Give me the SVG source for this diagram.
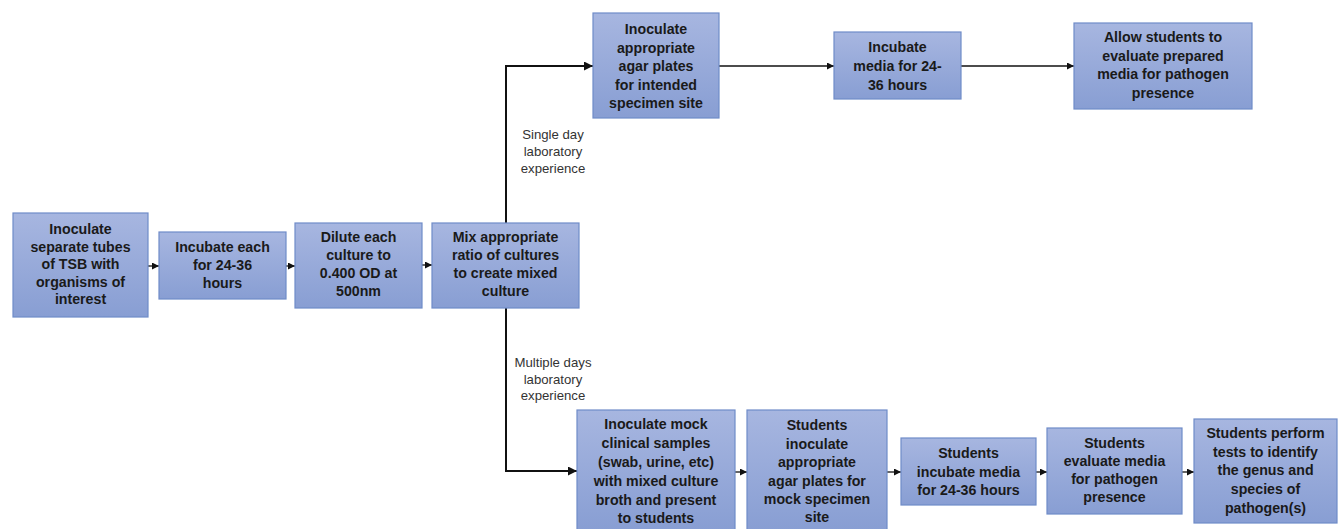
<svg xmlns="http://www.w3.org/2000/svg" width="1341" height="529" viewBox="0 0 1341 529">
<defs>
<linearGradient id="g" x1="0" y1="0" x2="0" y2="1">
<stop offset="0" stop-color="#a7b6e0"/>
<stop offset="1" stop-color="#889ed3"/>
</linearGradient>
<marker id="ah" viewBox="0 0 10 10" refX="10" refY="5" markerWidth="7" markerHeight="7" markerUnits="userSpaceOnUse" orient="auto">
<path d="M0,0 L10,5 L0,10 z" fill="#111"/>
</marker>
<marker id="ah2" viewBox="0 0 10 10" refX="10" refY="5" markerWidth="9" markerHeight="9" markerUnits="userSpaceOnUse" orient="auto">
<path d="M0,0 L10,5 L0,10 z" fill="#111"/>
</marker>
<style>
.b{fill:url(#g);stroke:#6f8cc8;stroke-width:1.2}
.t{font-family:"Liberation Sans",Arial,sans-serif;font-weight:bold;font-size:14.2px;fill:#1a1a1a;text-anchor:middle}
.l{font-family:"Liberation Sans",Arial,sans-serif;font-size:13.2px;fill:#333;text-anchor:middle}
.c{fill:none;stroke:#111;stroke-width:1.3}
.ct{fill:none;stroke:#111;stroke-width:2}
</style>
</defs>
<rect width="1341" height="529" fill="#fff"/>
<g id="connectors">
<line class="c" x1="148" y1="266" x2="159" y2="266" marker-end="url(#ah)"/>
<line class="c" x1="286" y1="266" x2="295" y2="266" marker-end="url(#ah)"/>
<line class="c" x1="422" y1="265" x2="432" y2="265" marker-end="url(#ah)"/>
<polyline class="ct" points="506,223 506,66 593,66" marker-end="url(#ah2)"/>
<polyline class="ct" points="506,308 506,471 577,471" marker-end="url(#ah2)"/>
<line class="c" x1="719" y1="66" x2="834" y2="66" marker-end="url(#ah)"/>
<line class="c" x1="961" y1="66" x2="1074" y2="66" marker-end="url(#ah)"/>
<line class="c" x1="735" y1="472" x2="747" y2="472" marker-end="url(#ah)"/>
<line class="c" x1="887" y1="472" x2="901" y2="472" marker-end="url(#ah)"/>
<line class="c" x1="1036" y1="472" x2="1047" y2="472" marker-end="url(#ah)"/>
<line class="c" x1="1182" y1="472" x2="1194" y2="472" marker-end="url(#ah)"/>
<text class="l" x="553" y="139">Single day</text>
<text class="l" x="553" y="156">laboratory</text>
<text class="l" x="553" y="173">experience</text>
<text class="l" x="553" y="367">Multiple days</text>
<text class="l" x="553" y="384">laboratory</text>
<text class="l" x="553" y="400">experience</text>
</g>
<g id="n1">
<rect class="b" x="13" y="213" width="135" height="104"/>
<text class="t" x="80.5" y="234">Inoculate</text>
<text class="t" x="80.5" y="251.5">separate tubes</text>
<text class="t" x="80.5" y="269">of TSB with</text>
<text class="t" x="80.5" y="286.5">organisms of</text>
<text class="t" x="80.5" y="304">interest</text>
</g>
<g id="n2">
<rect class="b" x="159" y="232" width="127" height="67"/>
<text class="t" x="222.5" y="252">Incubate each</text>
<text class="t" x="222.5" y="270">for 24-36</text>
<text class="t" x="222.5" y="288">hours</text>
</g>
<g id="n3">
<rect class="b" x="295" y="223" width="127" height="85"/>
<text class="t" x="358.5" y="242">Dilute each</text>
<text class="t" x="358.5" y="260">culture to</text>
<text class="t" x="358.5" y="278">0.400 OD at</text>
<text class="t" x="358.5" y="296">500nm</text>
</g>
<g id="n4">
<rect class="b" x="432" y="223" width="147" height="85"/>
<text class="t" x="505.5" y="242">Mix appropriate</text>
<text class="t" x="505.5" y="260">ratio of cultures</text>
<text class="t" x="505.5" y="278">to create mixed</text>
<text class="t" x="505.5" y="296">culture</text>
</g>
<g id="n5">
<rect class="b" x="593" y="13" width="126" height="105"/>
<text class="t" x="656" y="34">Inoculate</text>
<text class="t" x="656" y="52.5">appropriate</text>
<text class="t" x="656" y="71">agar plates</text>
<text class="t" x="656" y="89.5">for intended</text>
<text class="t" x="656" y="108">specimen site</text>
</g>
<g id="n6">
<rect class="b" x="834" y="32" width="127" height="67"/>
<text class="t" x="897.5" y="52">Incubate</text>
<text class="t" x="897.5" y="71">media for 24-</text>
<text class="t" x="897.5" y="90">36 hours</text>
</g>
<g id="n7">
<rect class="b" x="1074" y="23" width="178" height="86"/>
<text class="t" x="1163" y="42">Allow  students to</text>
<text class="t" x="1163" y="60.5">evaluate prepared</text>
<text class="t" x="1163" y="79">media for pathogen</text>
<text class="t" x="1163" y="97.5">presence</text>
</g>
<g id="n8">
<rect class="b" x="577" y="410" width="158" height="120"/>
<text class="t" x="656" y="429">Inoculate mock</text>
<text class="t" x="656" y="448">clinical samples</text>
<text class="t" x="656" y="467">(swab, urine, etc)</text>
<text class="t" x="656" y="486">with mixed culture</text>
<text class="t" x="656" y="505">broth and present</text>
<text class="t" x="656" y="523">to students</text>
</g>
<g id="n9">
<rect class="b" x="747" y="410" width="140" height="120"/>
<text class="t" x="817" y="430">Students</text>
<text class="t" x="817" y="449">inoculate</text>
<text class="t" x="817" y="467">appropriate</text>
<text class="t" x="817" y="486">agar plates for</text>
<text class="t" x="817" y="504">mock specimen</text>
<text class="t" x="817" y="522">site</text>
</g>
<g id="n10">
<rect class="b" x="901" y="438" width="135" height="67"/>
<text class="t" x="968.5" y="458">Students</text>
<text class="t" x="968.5" y="477">incubate media</text>
<text class="t" x="968.5" y="495">for 24-36 hours</text>
</g>
<g id="n11">
<rect class="b" x="1047" y="428" width="135" height="86"/>
<text class="t" x="1114.5" y="448">Students</text>
<text class="t" x="1114.5" y="466">evaluate media</text>
<text class="t" x="1114.5" y="484">for pathogen</text>
<text class="t" x="1114.5" y="502">presence</text>
</g>
<g id="n12">
<rect class="b" x="1194" y="419" width="143" height="104"/>
<text class="t" x="1265.5" y="438">Students perform</text>
<text class="t" x="1265.5" y="457">tests to identify</text>
<text class="t" x="1265.5" y="475">the genus and</text>
<text class="t" x="1265.5" y="494">species of</text>
<text class="t" x="1265.5" y="513">pathogen(s)</text>
</g>
</svg>
